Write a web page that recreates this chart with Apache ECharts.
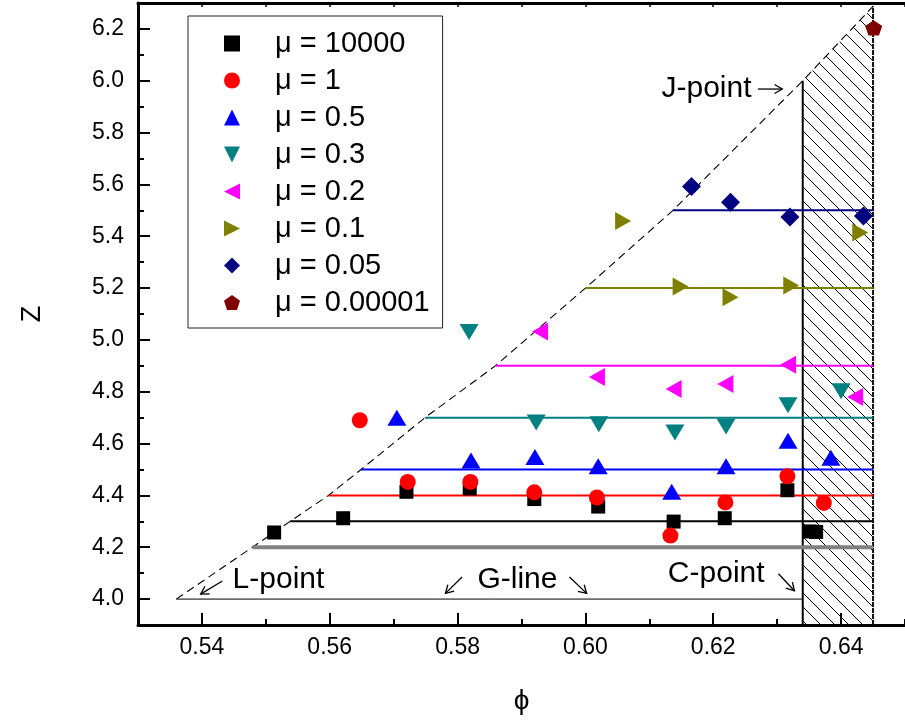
<!DOCTYPE html>
<html>
<head>
<meta charset="utf-8">
<script src="https://cdn.jsdelivr.net/npm/echarts@6/dist/echarts.min.js"></script>
<style>
  html, body { margin: 0; padding: 0; background: #fff; }
  #chart { width: 905px; height: 720px; }
</style>
</head>
<body>
<div id="chart"></div>
<script>
const FONT = "'Liberation Sans', Arial, Helvetica, 'DejaVu Sans', sans-serif";

// ---- data -------------------------------------------------------------
const seriesNames = ['μ = 10000', 'μ = 1', 'μ = 0.5', 'μ = 0.3', 'μ = 0.2', 'μ = 0.1', 'μ = 0.05', 'μ = 0.00001'];

const mu10000 = [[0.5513, 4.257], [0.5621, 4.312], [0.5720, 4.414], [0.5819, 4.427], [0.5920, 4.386], [0.6020, 4.357],
                 [0.6138, 4.299], [0.6218, 4.312], [0.6316, 4.420], [0.6351, 4.261], [0.6361, 4.259]];
const mu1     = [[0.5647, 4.690], [0.5722, 4.452], [0.5820, 4.452], [0.5920, 4.412], [0.6018, 4.392], [0.6133, 4.245],
                 [0.6219, 4.373], [0.6316, 4.474], [0.6373, 4.371]];
const mu05    = [[0.5705, 4.700], [0.5821, 4.535], [0.5921, 4.548], [0.6020, 4.513], [0.6135, 4.414], [0.6220, 4.513],
                 [0.6317, 4.611], [0.6384, 4.545]];
const mu03    = [[0.5818, 5.031], [0.5923, 4.681], [0.6021, 4.675], [0.6140, 4.643], [0.6220, 4.666], [0.6317, 4.748],
                 [0.6400, 4.802]];
const mu02    = [[0.5929, 5.032], [0.6018, 4.857], [0.6138, 4.811], [0.6219, 4.830], [0.6317, 4.904], [0.6422, 4.780]];
const mu01    = [[0.6059, 5.459], [0.6149, 5.206], [0.6227, 5.165], [0.6322, 5.210], [0.6430, 5.414]];
const mu005   = [[0.6166, 5.592], [0.6227, 5.531], [0.6320, 5.474], [0.6435, 5.478]];
const mu00001 = [[0.6451, 6.204]];

// dashed boundary from the L-point up to the top of the random-close-packing band
const boundaryCurve = [[0.536, 4.0], [0.5479, 4.2], [0.5538, 4.3], [0.5598, 4.4], [0.5649, 4.5], [0.5749, 4.7],
                       [0.5859, 4.9], [0.6000, 5.2], [0.6137, 5.5], [0.634, 6.0], [0.645, 6.287]];
const jPoint = [0.634, 6.0];
const phiMax = 0.645;
const zMin = 3.9;

// horizontal plateau levels and where each one meets the boundary
const guideLevel = [4.2, 4.3, 4.4, 4.5, 4.7, 4.9, 5.2, 5.5];
const guideStart = [0.5479, 0.5538, 0.5598, 0.5649, 0.5749, 0.5859, 0.6000, 0.6137];

// G-line from the L-point to the C-point
const gLine = [[0.536, 4.0], [0.634, 4.0]];

// annotations: label anchors and arrows (tail phi, tail Z, head phi, head Z)
const noteText = ['L-point', 'G-line', 'C-point', 'J-point'];
const notePos = [[0.5448, 4.076], [0.5831, 4.076], [0.6129, 4.096], [0.6119, 5.968]];
const arrowSeg = [[0.5432, 4.070, 0.5398, 4.019], [0.5807, 4.085, 0.5781, 4.022],
                  [0.5975, 4.085, 0.6002, 4.022], [0.6302, 4.098, 0.6327, 4.032],
                  [0.6270, 5.968, 0.6308, 5.968]];

const xMajorTicks = [0.54, 0.56, 0.58, 0.60, 0.62, 0.64];
const yMajorTicks = [4.0, 4.2, 4.4, 4.6, 4.8, 5.0, 5.2, 5.4, 5.6, 5.8, 6.0, 6.2];

// ---- styling ----------------------------------------------------------
const markerColors = ['#000000', '#ff0000', '#0000ff', '#008080', '#ff00ff', '#808000', '#000080', '#800000'];
const guideColors = ['#808080', '#000000', '#ff0000', '#0000ff', '#008080', '#ff00ff', '#808000', '#000080'];
const guideWidths = [4, 2, 2, 2, 2, 2, 2, 2];
const PENTAGON = 'path://M0,-10L9.51,-3.09L5.88,8.09L-5.88,8.09L-9.51,-3.09Z';
const TRI_DOWN = 'path://M-1,-1L1,-1L0,1Z';
const TRI_LEFT = 'path://M-1,0L1,-1L1,1Z';
const TRI_RIGHT = 'path://M-1,-1L1,0L-1,1Z';
const markerShapes = [
  { symbol: 'rect', size: [14, 14] },
  { symbol: 'circle', size: 16 },
  { symbol: 'triangle', size: [19, 16] },
  { symbol: TRI_DOWN, size: [19, 16] },
  { symbol: TRI_LEFT, size: [16, 18] },
  { symbol: TRI_RIGHT, size: [16, 18] },
  { symbol: 'diamond', size: [19, 19] },
  { symbol: PENTAGON, size: [17, 16] }
];
const markerData = [mu10000, mu1, mu05, mu03, mu02, mu01, mu005, mu00001];

// diagonal hatch tile
function hatchTile() {
  const s = 14;
  const c = document.createElement('canvas');
  c.width = s; c.height = s;
  const g = c.getContext('2d');
  g.strokeStyle = '#000';
  g.lineWidth = 1;
  g.beginPath();
  g.moveTo(-1, -1); g.lineTo(s + 1, s + 1);
  g.moveTo(-1, s - 1); g.lineTo(1, s + 1);
  g.moveTo(s - 1, -1); g.lineTo(s + 1, 1);
  g.stroke();
  return c;
}

const chart = echarts.init(document.getElementById('chart'), null, { renderer: 'canvas' });

const axisLineStyle = { color: '#000', width: 3 };
const baseX = { type: 'value', min: 0.53, max: 0.65, splitLine: { show: false } };
const baseY = { type: 'value', min: 3.9, max: 6.3, splitLine: { show: false } };

const series = [];

// hatched band between the J-point and the right limit
series.push({
  type: 'line', name: 'band', silent: true, z: 1,
  data: boundaryCurve.filter(p => p[0] >= jPoint[0]),
  symbol: 'none',
  lineStyle: { width: 0 },
  areaStyle: { color: { image: hatchTile(), repeat: 'repeat' }, opacity: 1, origin: 'start' }
});

// band edges
series.push({
  type: 'line', silent: true, z: 2, symbol: 'none',
  data: [[jPoint[0], zMin], jPoint],
  lineStyle: { color: '#000', width: 2 }
});
series.push({
  type: 'line', silent: true, z: 2, symbol: 'none',
  data: [[phiMax, zMin], boundaryCurve[boundaryCurve.length - 1]],
  lineStyle: { color: '#111', width: 2, type: [5, 1] }
});

// dashed boundary
series.push({
  type: 'line', silent: true, z: 2, symbol: 'none',
  data: boundaryCurve,
  lineStyle: { color: '#000', width: 1.1, type: [8, 5] }
});

// G-line
series.push({
  type: 'line', silent: true, z: 2, symbol: 'none',
  data: gLine,
  lineStyle: { color: '#000', width: 1 }
});

// plateau levels
guideLevel.forEach((z, i) => {
  series.push({
    type: 'line', silent: true, z: 3, symbol: 'none',
    data: [[guideStart[i], z], [phiMax, z]],
    lineStyle: { color: guideColors[i], width: guideWidths[i] }
  });
});

// measured points
markerData.forEach((d, i) => {
  series.push({
    type: 'scatter', name: seriesNames[i], z: 5 + i,
    data: d,
    symbol: markerShapes[i].symbol,
    symbolSize: markerShapes[i].size,
    symbolKeepAspect: true,
    itemStyle: { color: markerColors[i], opacity: 1 }
  });
});

// annotation arrows
series.push({
  type: 'custom', silent: true, z: 20,
  data: arrowSeg,
  encode: { x: [0, 2], y: [1, 3] },
  renderItem: function (params, api) {
    const a = api.coord([api.value(0), api.value(1)]);
    const b = api.coord([api.value(2), api.value(3)]);
    const ang = Math.atan2(b[1] - a[1], b[0] - a[0]);
    const L = 9, w = Math.PI / 6;
    const h1 = [b[0] - L * Math.cos(ang - w), b[1] - L * Math.sin(ang - w)];
    const h2 = [b[0] - L * Math.cos(ang + w), b[1] - L * Math.sin(ang + w)];
    const st = { stroke: '#000', lineWidth: 1.3, fill: null };
    return {
      type: 'group',
      children: [
        { type: 'line', shape: { x1: a[0], y1: a[1], x2: b[0], y2: b[1] }, style: st },
        { type: 'polyline', shape: { points: [h1, b, h2] }, style: st }
      ]
    };
  }
});

// annotation labels
series.push({
  type: 'custom', silent: true, z: 20,
  data: notePos,
  renderItem: function (params, api) {
    const p = api.coord([api.value(0), api.value(1)]);
    return {
      type: 'text', x: p[0], y: p[1],
      style: { text: noteText[params.dataIndex], font: '30px ' + FONT, fill: '#000', align: 'left', verticalAlign: 'middle' }
    };
  }
});

chart.setOption({
  animation: false,
  backgroundColor: '#fff',
  textStyle: { fontFamily: FONT },
  grid: { left: 138, top: 3, width: 773, height: 628, containLabel: false },
  legend: {
    orient: 'vertical', left: 188, top: 16,
    padding: [13, 13, 11, 36],
    itemWidth: 16, itemHeight: 16, itemGap: 8,
    borderColor: '#222', borderWidth: 1, backgroundColor: '#fff',
    selectedMode: false,
    data: seriesNames,
    textStyle: { fontSize: 29, fontFamily: FONT, color: '#000', lineHeight: 29, padding: [0, 0, 0, 30] },
    z: 30
  },
  xAxis: [
    Object.assign({}, baseX, {
      position: 'bottom', interval: 0.01,
      axisLine: { lineStyle: axisLineStyle },
      axisTick: { inside: true, length: 6, lineStyle: { color: '#000', width: 2 } },
      axisLabel: { show: false },
      name: '\u03D5', nameLocation: 'middle', nameGap: 62,
      nameTextStyle: { fontSize: 28, fontFamily: FONT, color: '#000' }
    }),
    Object.assign({}, baseX, {
      position: 'bottom',
      axisLine: { show: false },
      axisTick: { inside: true, length: 12, customValues: xMajorTicks, lineStyle: { color: '#000', width: 2 } },
      axisLabel: { customValues: xMajorTicks, fontSize: 23, fontFamily: FONT, color: '#000', margin: 11,
                   formatter: v => v.toFixed(2) }
    }),
    Object.assign({}, baseX, {
      position: 'top', interval: 0.01,
      axisLine: { lineStyle: axisLineStyle },
      axisTick: { inside: true, length: 4, lineStyle: { color: '#000', width: 1.5 } },
      axisLabel: { show: false }
    })
  ],
  yAxis: [
    Object.assign({}, baseY, {
      position: 'left', interval: 0.1,
      axisLine: { lineStyle: axisLineStyle },
      axisTick: { inside: true, length: 6, lineStyle: { color: '#000', width: 2 } },
      axisLabel: { show: false },
      name: 'Z', nameLocation: 'middle', nameGap: 92, nameRotate: 90,
      nameTextStyle: { fontSize: 27, fontFamily: FONT, color: '#000' }
    }),
    Object.assign({}, baseY, {
      position: 'left',
      axisLine: { show: false },
      axisTick: { inside: true, length: 12, customValues: yMajorTicks, lineStyle: { color: '#000', width: 2 } },
      axisLabel: { customValues: yMajorTicks, fontSize: 23, fontFamily: FONT, color: '#000', margin: 14,
                   formatter: v => v.toFixed(1) }
    })
  ],
  series: series
});
</script>
</body>
</html>
